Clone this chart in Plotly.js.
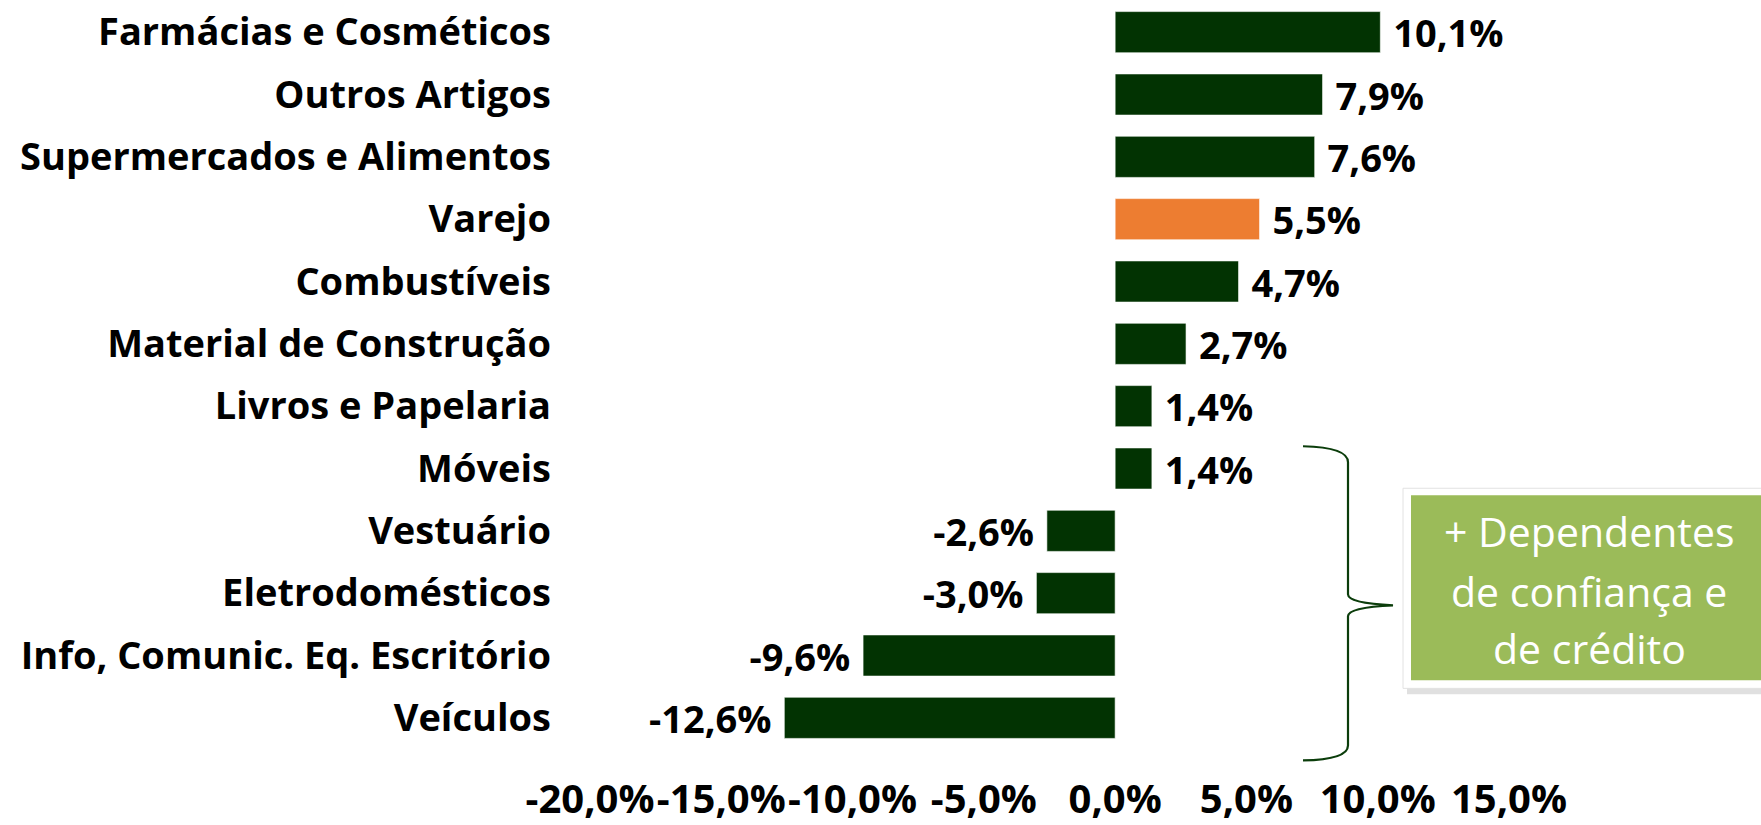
<!DOCTYPE html>
<html>
<head>
<meta charset="utf-8">
<script src="https://cdn.plot.ly/plotly-3.0.1.min.js"></script>
<style>html,body{margin:0;padding:0;background:#fff;}#chart{width:1761px;height:825px;}</style>
</head>
<body>
<div id="chart"></div>
<script>
const categories = [
  "Farmácias e Cosméticos",
  "Outros Artigos",
  "Supermercados e Alimentos",
  "Varejo",
  "Combustíveis",
  "Material de Construção",
  "Livros e Papelaria",
  "Móveis",
  "Vestuário",
  "Eletrodomésticos",
  "Info, Comunic. Eq. Escritório",
  "Veículos"
];
const values = [10.1, 7.9, 7.6, 5.5, 4.7, 2.7, 1.4, 1.4, -2.6, -3.0, -9.6, -12.6];
const highlight = "Varejo";
const tickValues = [-20, -15, -10, -5, 0, 5, 10, 15];
const tickLabels = ["-20,0%", "-15,0%", "-10,0%", "-5,0%", "0,0%", "5,0%", "10,0%", "15,0%"];
const boxLines = ["+ Dependentes", "de confiança e", "de crédito"];

const W = 1761, H = 825;
const L = 590, R = 1509, T = 1, B = 748.6;
const px = x => (x - L) / (R - L);
const py = y => (B - y) / (B - T);

const green = "#023302", orange = "#ED7D31";
const colors = categories.map(c => c === highlight ? orange : green);
const nb = "\u00a0";
const labels = values.map(v => {
  const s = v.toFixed(1).replace(".", ",") + "%";
  return v >= 0 ? nb + s : s + nb;
});

const trace = {
  type: "bar",
  orientation: "h",
  x: values,
  y: categories,
  marker: {color: colors, line: {color: "rgba(255,255,255,0.6)", width: 1}},
  text: labels,
  textposition: "outside",
  textfont: {family: "Open Sans", size: 38, color: "#000", weight: "bold"},
  constraintext: "none",
  cliponaxis: false,
  hoverinfo: "skip"
};

function pathFrom(pts) {
  return pts.map(p => {
    if (p[0] === "M" || p[0] === "L") return p[0] + " " + px(p[1]) + " " + py(p[2]);
    return "Q " + px(p[1]) + " " + py(p[2]) + " " + px(p[3]) + " " + py(p[4]);
  }).join(" ");
}
const brace = pathFrom([
  ["M", 1303, 446], ["Q", 1348, 447, 1348, 462], ["L", 1348, 594],
  ["Q", 1348, 603, 1393, 605], ["Q", 1348, 607, 1348, 616],
  ["L", 1348, 745], ["Q", 1348, 759, 1303, 760]
]);

const shapes = [
  {type: "path", xref: "paper", yref: "paper", path: brace, line: {color: "#0b3d0b", width: 2.2}},
  {type: "rect", xref: "paper", yref: "paper", x0: px(1407), x1: px(1775), y0: py(494), y1: py(694),
   fillcolor: "rgba(0,0,0,0.12)", line: {width: 0}},
  {type: "rect", xref: "paper", yref: "paper", x0: px(1403), x1: px(1775), y0: py(488), y1: py(688),
   fillcolor: "#ffffff", line: {color: "#e2e2e2", width: 1}},
  {type: "rect", xref: "paper", yref: "paper", x0: px(1411), x1: px(1775), y0: py(495), y1: py(680),
   fillcolor: "#9BBB59", line: {width: 0}}
];

const lineY = [531, 591, 648];
const annotations = boxLines.map((t, i) => ({
  xref: "paper", yref: "paper", x: px(1589), y: py(lineY[i]),
  xanchor: "center", yanchor: "middle", showarrow: false, text: t,
  font: {family: "Open Sans", size: 41, color: "#ffffff"}
}));

const layout = {
  width: W, height: H,
  margin: {l: L, r: W - R, t: T, b: H - B, pad: 0},
  paper_bgcolor: "#fff", plot_bgcolor: "#fff",
  showlegend: false,
  bargap: 0.34,
  xaxis: {
    range: [-20, 15], tickvals: tickValues, ticktext: tickLabels, tickangle: 0,
    showgrid: false, zeroline: false, showline: false, ticks: "",
    tickfont: {family: "Open Sans", size: 40, color: "#000", weight: "bold"},
    ticklabelstandoff: 23, fixedrange: true
  },
  yaxis: {
    type: "category", autorange: "reversed",
    showgrid: false, zeroline: false, showline: false, ticks: "",
    tickfont: {family: "Open Sans", size: 38, color: "#000", weight: "bold"},
    ticklabelstandoff: 38, fixedrange: true
  },
  shapes: shapes,
  annotations: annotations
};

Plotly.newPlot("chart", [trace], layout, {displayModeBar: false, staticPlot: true});
</script>
</body>
</html>
